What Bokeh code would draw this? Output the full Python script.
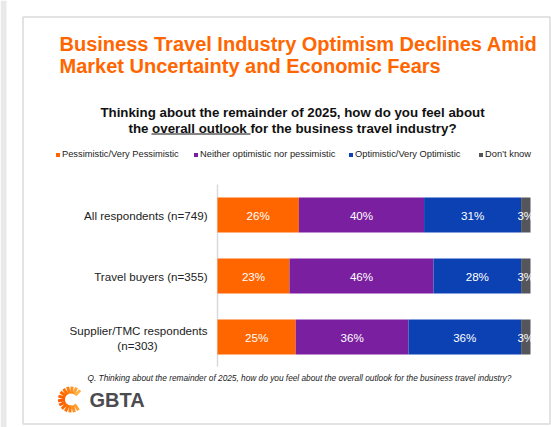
import math
from bokeh.plotting import figure
from bokeh.models import Range1d, ColumnDataSource, Legend, LegendItem
from bokeh.embed import file_html
from bokeh.resources import INLINE
from bokeh.core.properties import value

# ---------------- data ----------------
categories = ["All respondents (n=749)", "Travel buyers (n=355)", "Supplier/TMC respondents\n(n=303)"]
series_names = ["Pessimistic/Very Pessimistic", "Neither optimistic nor pessimistic",
                "Optimistic/Very Optimistic", "Don\u2019t know"]
pessimistic = [26, 23, 25]
neither = [40, 46, 36]
optimistic = [31, 28, 36]
dont_know = [3, 3, 3]
colors = ["#FF6600", "#7A1FA0", "#0B41B3", "#55565B"]

title_lines = ["Business Travel Industry Optimism Declines Amid", "Market Uncertainty and Economic Fears"]
subtitle_lines = ["Thinking about the remainder of 2025, how do you feel about",
                  "the overall outlook for the business travel industry?"]
footnote = ("Q. Thinking about the remainder of 2025, how do you feel about the overall "
            "outlook for the business travel industry?")
FONT = "Liberation Sans"

# ---------------- layout ----------------
W, H = 551, 427
X0_PAGE, X100_PAGE = 217, 530
ppu = (X100_PAGE - X0_PAGE) / 100.0
ROW0_PAGE, ROW_STEP, BAR_PX = 214.5, 61.0, 35.0

x_range = Range1d((0 - X0_PAGE) / ppu, (W - X0_PAGE) / ppu)
y_range = Range1d((H - ROW0_PAGE) / ROW_STEP, (0 - ROW0_PAGE) / ROW_STEP)

p = figure(width=W, height=H, x_range=x_range, y_range=y_range,
           x_axis_type=None, y_axis_type=None, toolbar_location=None,
           output_backend="svg", min_border=0, outline_line_color=None,
           background_fill_color="white", border_fill_color="white")
p.extra_x_ranges = {"px": Range1d(0, W)}
p.extra_y_ranges = {"px": Range1d(H, 0)}
PX = dict(x_range_name="px", y_range_name="px")

# page backdrop, slide frame and axis line (decoration)
p.quad(left=[0], right=[6], top=[0], bottom=[H], fill_color="#E9E9E9", line_color=None, **PX)
p.quad(left=[22.5], right=[549.5], top=[16.5], bottom=[423.5], fill_color=None,
       line_color="#DADADA", line_width=1.5, **PX)
p.segment(x0=[217], y0=[184], x1=[217], y1=[366], line_color="#D9D9D9", line_width=1.5, **PX)

# ---------------- bars ----------------
keys = ["pess", "neither", "opt", "dk"]
series = [pessimistic, neither, optimistic, dont_know]
src = ColumnDataSource(dict(y=list(range(len(categories))), pess=pessimistic,
                            neither=neither, opt=optimistic, dk=dont_know))
bar_renderers = p.hbar_stack(keys, y="y", height=BAR_PX / ROW_STEP, color=colors,
                             line_color=None, source=src)

lx, ly, lt = [], [], []
for i in range(len(categories)):
    start = 0
    for vals in series:
        v = vals[i]
        lx.append(start + v / 2.0)
        ly.append(i)
        lt.append(f"{v}%")
        start += v
p.text(lx, ly, text=lt, text_color="white", text_font=value(FONT), text_font_size="11.6px",
       text_align="center", text_baseline="middle")

# category labels
LBL = dict(text_font=value(FONT), text_font_size="11.6px", text_color="#222222",
           text_baseline="middle")
for i, cat in enumerate(categories):
    parts = cat.split("\n")
    if len(parts) == 1:
        p.text([0], [i], text=[cat], x_offset=-10, text_align="right", **LBL)
    else:
        p.text([0], [i], text=[parts[0]], x_offset=-10, y_offset=-7, text_align="right", **LBL)
        p.text([0], [i], text=[parts[1]], x_offset=-80, y_offset=8, text_align="center", **LBL)

# ---------------- legend (one entry per series, placed like the slide) ----------------
legend_x = [55, 193, 348, 478]
for r, name, lxp in zip(bar_renderers, series_names, legend_x):
    lg = Legend(items=[LegendItem(label=name, renderers=[r])], location=(lxp, 268),
                orientation="horizontal", glyph_width=5, glyph_height=5,
                label_text_font=FONT, label_text_font_size="9.3px", label_text_color="#222222",
                label_standoff=2, spacing=0, padding=0, margin=0, label_height=9,
                label_width=10, border_line_color=None, background_fill_alpha=0)
    p.add_layout(lg, "center")

# ---------------- titles ----------------
p.text([59, 59], [43, 65], text=title_lines, text_font=value(FONT), text_font_style="bold",
       text_font_size="20px", text_color="#FF6600", text_baseline="middle", **PX)
p.text([292, 292], [112, 127.5], text=subtitle_lines, text_font=value(FONT),
       text_font_style="bold", text_font_size="13.3px", text_color="#111111",
       text_align="center", text_baseline="middle", **PX)
p.segment(x0=[151], y0=[133.5], x1=[250], y1=[133.5], line_color="#111111", line_width=1, **PX)

# footnote
p.text([87], [377], text=[footnote], text_font=value(FONT), text_font_style="italic",
       text_font_size="8.3px", text_color="#222222", text_baseline="middle", **PX)

# ---------------- GBTA logo ----------------
cx, cy = 70.5, 399
rx0, ry0, rx1, ry1 = [], [], [], []
ray_colors = ["#FFB347", "#FFA033", "#FF9020", "#FF8010", "#FF7305", "#FF6A00", "#FF6300",
              "#FF5E00", "#FF6300", "#FF6A00", "#FF7305", "#FF8010", "#FF9020", "#FFA033"]
angles = [45 + k * 20 for k in range(14)]
for a in angles:
    t = math.radians(a)
    rx0.append(cx + 6 * math.cos(t)); ry0.append(cy - 6 * math.sin(t))
    rx1.append(cx + 13 * math.cos(t)); ry1.append(cy - 13 * math.sin(t))
p.segment(x0=rx0, y0=ry0, x1=rx1, y1=ry1, line_color=ray_colors, line_width=3, **PX)
p.text([89], [399], text=["GBTA"], text_font=value(FONT), text_font_style="bold",
       text_font_size="20px", text_color="#4B4B50", text_baseline="middle", **PX)

open("out.html", "w").write(file_html(p, INLINE))
